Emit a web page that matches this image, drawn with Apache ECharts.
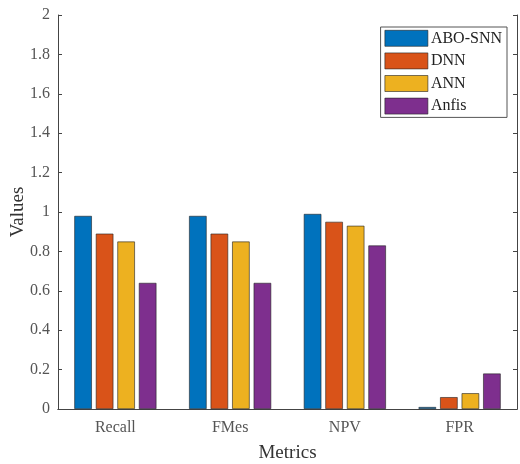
<!DOCTYPE html>
<html>
<head>
<meta charset="utf-8">
<script src="https://cdn.jsdelivr.net/npm/echarts@6/dist/echarts.min.js"></script>
<style>
  html, body { margin: 0; padding: 0; background: #fff; }
  #chart { width: 520px; height: 464px; }
</style>
</head>
<body>
<div id="chart"></div>
<script>
const metrics = ["Recall", "FMes", "NPV", "FPR"];
const aboSnn = [0.98, 0.98, 0.99, 0.01];
const dnn = [0.89, 0.89, 0.95, 0.06];
const ann = [0.85, 0.85, 0.93, 0.08];
const anfis = [0.64, 0.64, 0.83, 0.18];
const colors = ["#0072BD", "#D95319", "#EDB120", "#7E2F8E"];

const font = "Liberation Serif, Times New Roman, serif";

const barSeries = (name, data, i) => ({
  name: name,
  type: "bar",
  data: data,
  barWidth: 17.5,
  barGap: "23%",
  itemStyle: { color: colors[i], borderColor: "#222", borderWidth: 0.6 }
});

const chart = echarts.init(document.getElementById("chart"));
chart.setOption({
  animation: false,
  textStyle: { fontFamily: font },
  grid: { left: 58, top: 15, right: 3, bottom: 55, outerBoundsMode: "none", containLabel: false },
  legend: {
    right: 13,
    top: 27,
    orient: "vertical",
    icon: "rect",
    itemWidth: 43,
    itemHeight: 16,
    itemGap: 6,
    padding: [3, 5, 3, 4],
    borderColor: "#555",
    borderWidth: 1,
    backgroundColor: "#fff",
    textStyle: { fontFamily: font, fontSize: 16, color: "#222", padding: [0, 0, 0, -2] },
    itemStyle: { borderColor: "#222", borderWidth: 0.6 },
    data: ["ABO-SNN", "DNN", "ANN", "Anfis"]
  },
  xAxis: [
    {
      type: "category",
      data: metrics,
      name: "Metrics",
      nameLocation: "middle",
      nameGap: 35,
      nameMoveOverlap: false,
      nameTextStyle: { fontFamily: font, fontSize: 19, color: "#333" },
      axisLine: { lineStyle: { color: "#444" } },
      axisTick: { inside: true, alignWithLabel: true, length: 4, lineStyle: { color: "#444" } },
      axisLabel: { fontFamily: font, fontSize: 16, color: "#555", margin: 11 }
    },
    {
      type: "category",
      data: metrics,
      position: "top",
      axisLine: { lineStyle: { color: "#444" } },
      axisTick: { inside: true, alignWithLabel: true, length: 4, lineStyle: { color: "#444" } },
      axisLabel: { show: false }
    }
  ],
  yAxis: [
    {
      type: "value",
      min: 0,
      max: 2,
      interval: 0.2,
      name: "Values",
      nameLocation: "middle",
      nameGap: 30,
      nameMoveOverlap: false,
      nameTextStyle: { fontFamily: font, fontSize: 19, color: "#333" },
      axisLine: { show: true, lineStyle: { color: "#444" } },
      axisTick: { show: true, inside: true, length: 4, lineStyle: { color: "#444" } },
      axisLabel: { fontFamily: font, fontSize: 16, color: "#555", margin: 8 },
      splitLine: { show: false }
    },
    {
      type: "value",
      min: 0,
      max: 2,
      interval: 0.2,
      position: "right",
      axisLine: { show: true, lineStyle: { color: "#444" } },
      axisTick: { show: true, inside: true, length: 4, lineStyle: { color: "#444" } },
      axisLabel: { show: false },
      splitLine: { show: false }
    }
  ],
  series: [
    barSeries("ABO-SNN", aboSnn, 0),
    barSeries("DNN", dnn, 1),
    barSeries("ANN", ann, 2),
    barSeries("Anfis", anfis, 3)
  ]
});
</script>
</body>
</html>
